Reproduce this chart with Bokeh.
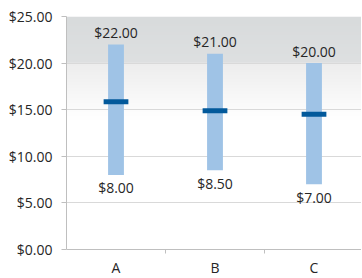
import numpy as np
from bokeh.plotting import figure
from bokeh.models import Range1d, FixedTicker, NumeralTickFormatter, ColumnDataSource, Span
from bokeh.core.properties import value
from bokeh.embed import file_html
from bokeh.resources import INLINE

categories = ["A", "B", "C"]
low = [8.00, 8.50, 7.00]
high = [22.00, 21.00, 20.00]
mean = [15.85, 14.9, 14.5]
y_ticks = [0, 5, 10, 15, 20, 25]

FONT = "Open Sans"
FS = "14px"
TXT = "#262626"
AXIS = "#bfbfbf"

xc = [i + 0.5 for i in range(len(categories))]
src = ColumnDataSource(dict(
    x=xc, low=low, high=high, mean=mean, cat=categories, zero=[0] * len(categories),
    hi_lbl=["${:.2f}".format(v) for v in high],
    lo_lbl=["${:.2f}".format(v) for v in low],
))
bnd = ColumnDataSource(dict(x=[i + 1 for i in range(len(categories))], zero=[0] * len(categories)))

p = figure(width=361, height=277, output_backend="svg", toolbar_location=None,
           x_range=Range1d(0, 295 / 99), y_range=Range1d(-28 * 25 / 233, 25),
           min_border_left=66, min_border_right=0, min_border_top=16, min_border_bottom=0)
p.outline_line_color = None
p.background_fill_color = "white"

# background gradient at top of plot area (rows from y=14 up to y=25)
n = 110
img = np.zeros((n, 1), dtype=np.uint32)
view = img.view(dtype=np.uint8).reshape((n, 1, 4))
for i in range(n):
    yv = 14 + (i + 0.5) * 11 / n
    if yv >= 20:
        t = (yv - 20) / 5
        c = np.array([222, 224, 225]) + (np.array([216, 219, 220]) - np.array([222, 224, 225])) * t
    else:
        t = max(0.0, (yv - 14) / 6)
        c = np.array([255, 255, 255]) + (np.array([237, 237, 237]) - 255) * t
    view[i, 0, 0] = int(c[0]); view[i, 0, 1] = int(c[1]); view[i, 0, 2] = int(c[2]); view[i, 0, 3] = 255
p.image_rgba(image=[img], x=0, y=14, dw=3, dh=11, level="image")

p.vbar(x="x", width=0.16, bottom="low", top="high", source=src,
       fill_color="#9fc3e6", line_color=None)
p.rect(x="x", y="mean", width=0.25, height=5, height_units="screen", source=src,
       fill_color="#02599b", line_color=None)

p.text(x="x", y="high", text="hi_lbl", source=src, text_align="center", text_baseline="middle",
       y_offset=-12, text_font=value(FONT), text_font_size=FS, text_color=TXT)
p.text(x="x", y="low", text="lo_lbl", source=src, text_align="center", text_baseline="middle",
       y_offset=13, text_font=value(FONT), text_font_size=FS, text_color=TXT)

# category axis: line at zero, boundary tick marks, category labels
p.add_layout(Span(location=0, dimension="width", line_color=AXIS, line_width=1))
p.ray(x="x", y="zero", length=4, length_units="screen", angle=-np.pi / 2, source=bnd,
      line_color=AXIS, line_width=1)
p.text(x="x", y="zero", text="cat", source=src, text_align="center", text_baseline="middle",
       y_offset=18, text_font=value(FONT), text_font_size=FS, text_color=TXT)

p.xaxis.visible = False

p.yaxis.ticker = FixedTicker(ticks=y_ticks)
p.yaxis.bounds = (0, 25)
p.yaxis.formatter = NumeralTickFormatter(format="$0.00")
p.yaxis.major_tick_out = 5
p.yaxis.major_tick_in = 0
p.yaxis.minor_tick_line_color = None
p.yaxis.major_tick_line_color = AXIS
p.yaxis.axis_line_color = AXIS
p.yaxis.major_label_standoff = 9
p.yaxis.major_label_text_font = FONT
p.yaxis.major_label_text_font_size = FS
p.yaxis.major_label_text_color = TXT

p.xgrid.grid_line_color = None
p.ygrid.grid_line_color = "#d9d9d9"
p.ygrid.ticker = FixedTicker(ticks=y_ticks[1:])

open("out.html", "w").write(file_html(p, INLINE))
